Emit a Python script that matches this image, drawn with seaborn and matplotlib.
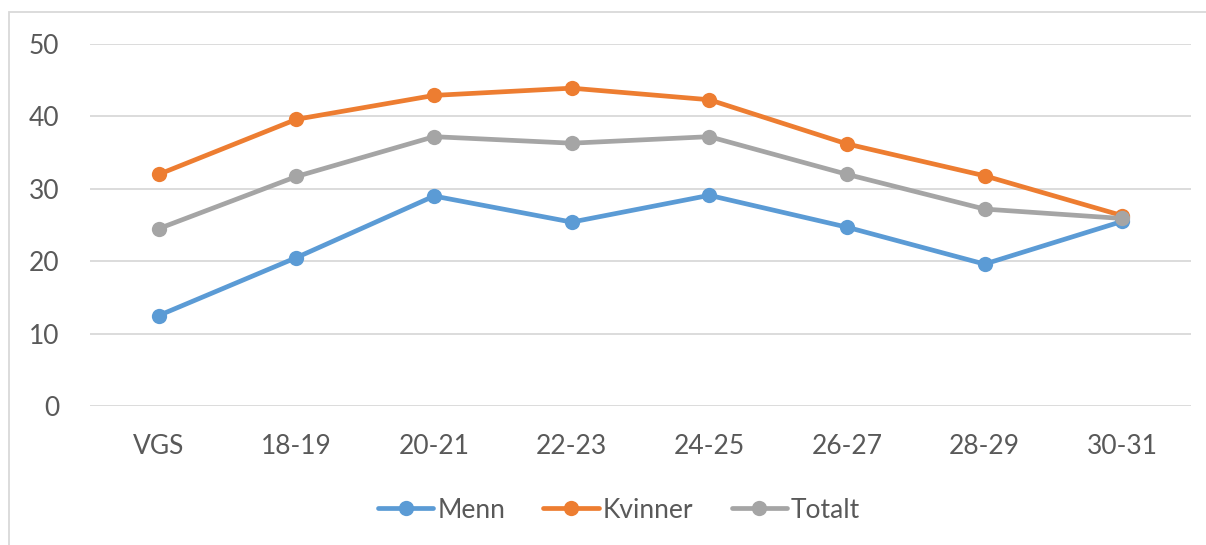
import matplotlib

matplotlib.use("Agg")
import matplotlib.pyplot as plt
import matplotlib.patches as mpatches
from matplotlib.lines import Line2D
import pandas as pd
import seaborn as sns


CATEGORIES = ["VGS", "18-19", "20-21", "22-23", "24-25", "26-27", "28-29", "30-31"]
MENN = [12.5, 20.5, 29.0, 25.4, 29.1, 24.7, 19.6, 25.5]
KVINNER = [32.0, 39.6, 42.9, 43.9, 42.3, 36.2, 31.8, 26.3]
TOTALT = [24.5, 31.7, 37.2, 36.3, 37.2, 32.0, 27.2, 25.9]
SERIES_NAMES = ["Menn", "Kvinner", "Totalt"]
Y_TICKS = [0, 10, 20, 30, 40, 50]

COLORS = {"Menn": "#5B9BD5", "Kvinner": "#ED7D31", "Totalt": "#A5A5A5"}
TEXT_COLOR = "#595959"
GRID_COLOR = "#D9D9D9"


def build_frame() -> pd.DataFrame:
    rows = []
    for name, values in zip(SERIES_NAMES, [MENN, KVINNER, TOTALT]):
        for cat, val in zip(CATEGORIES, values):
            rows.append({"gruppe": cat, "andel": val, "serie": name})
    return pd.DataFrame(rows)


def main() -> None:
    sns.set_style("white")
    plt.rcParams["font.family"] = ["Lato", "DejaVu Sans"]

    df = build_frame()

    fig = plt.figure(figsize=(12.06, 5.45), dpi=100)
    ax = fig.add_axes([90 / 1206, 1 - 406 / 545, (1191 - 90) / 1206, (406 - 44) / 545])

    sns.lineplot(
        data=df,
        x="gruppe",
        y="andel",
        hue="serie",
        hue_order=SERIES_NAMES,
        palette=COLORS,
        marker="o",
        markersize=11,
        markeredgewidth=0,
        linewidth=3.4,
        sort=False,
        legend=False,
        ax=ax,
        zorder=3,
    )

    ax.set_xlim(-0.5, len(CATEGORIES) - 0.5)
    ax.set_ylim(0, 50)
    ax.set_yticks(Y_TICKS)
    ax.set_xlabel("")
    ax.set_ylabel("")
    for side in ["top", "right", "left", "bottom"]:
        ax.spines[side].set_visible(False)
    ax.grid(axis="y", color=GRID_COLOR, linewidth=1.3)
    ax.grid(axis="x", visible=False)
    ax.set_axisbelow(True)
    ax.tick_params(axis="both", length=0, labelsize=19, labelcolor=TEXT_COLOR)
    ax.tick_params(axis="y", pad=22)
    ax.tick_params(axis="x", pad=20)

    handles = [
        Line2D([0], [0], color=COLORS[n], linewidth=3.4, marker="o", markersize=11, markeredgewidth=0)
        for n in SERIES_NAMES
    ]
    fig.legend(
        handles,
        SERIES_NAMES,
        loc="center",
        bbox_to_anchor=(619 / 1206, 1 - 510 / 545),
        ncol=3,
        frameon=False,
        fontsize=19,
        labelcolor=TEXT_COLOR,
        handlelength=2.1,
        handletextpad=0.15,
        columnspacing=1.45,
    )

    border = mpatches.Rectangle(
        (9 / 1206, -0.05),
        1.1,
        1 - 12 / 545 + 0.05,
        transform=fig.transFigure,
        fill=False,
        edgecolor=GRID_COLOR,
        linewidth=1.3,
    )
    fig.patches.append(border)

    fig.savefig("out.png", dpi=100)
    plt.close(fig)


if __name__ == "__main__":
    main()
